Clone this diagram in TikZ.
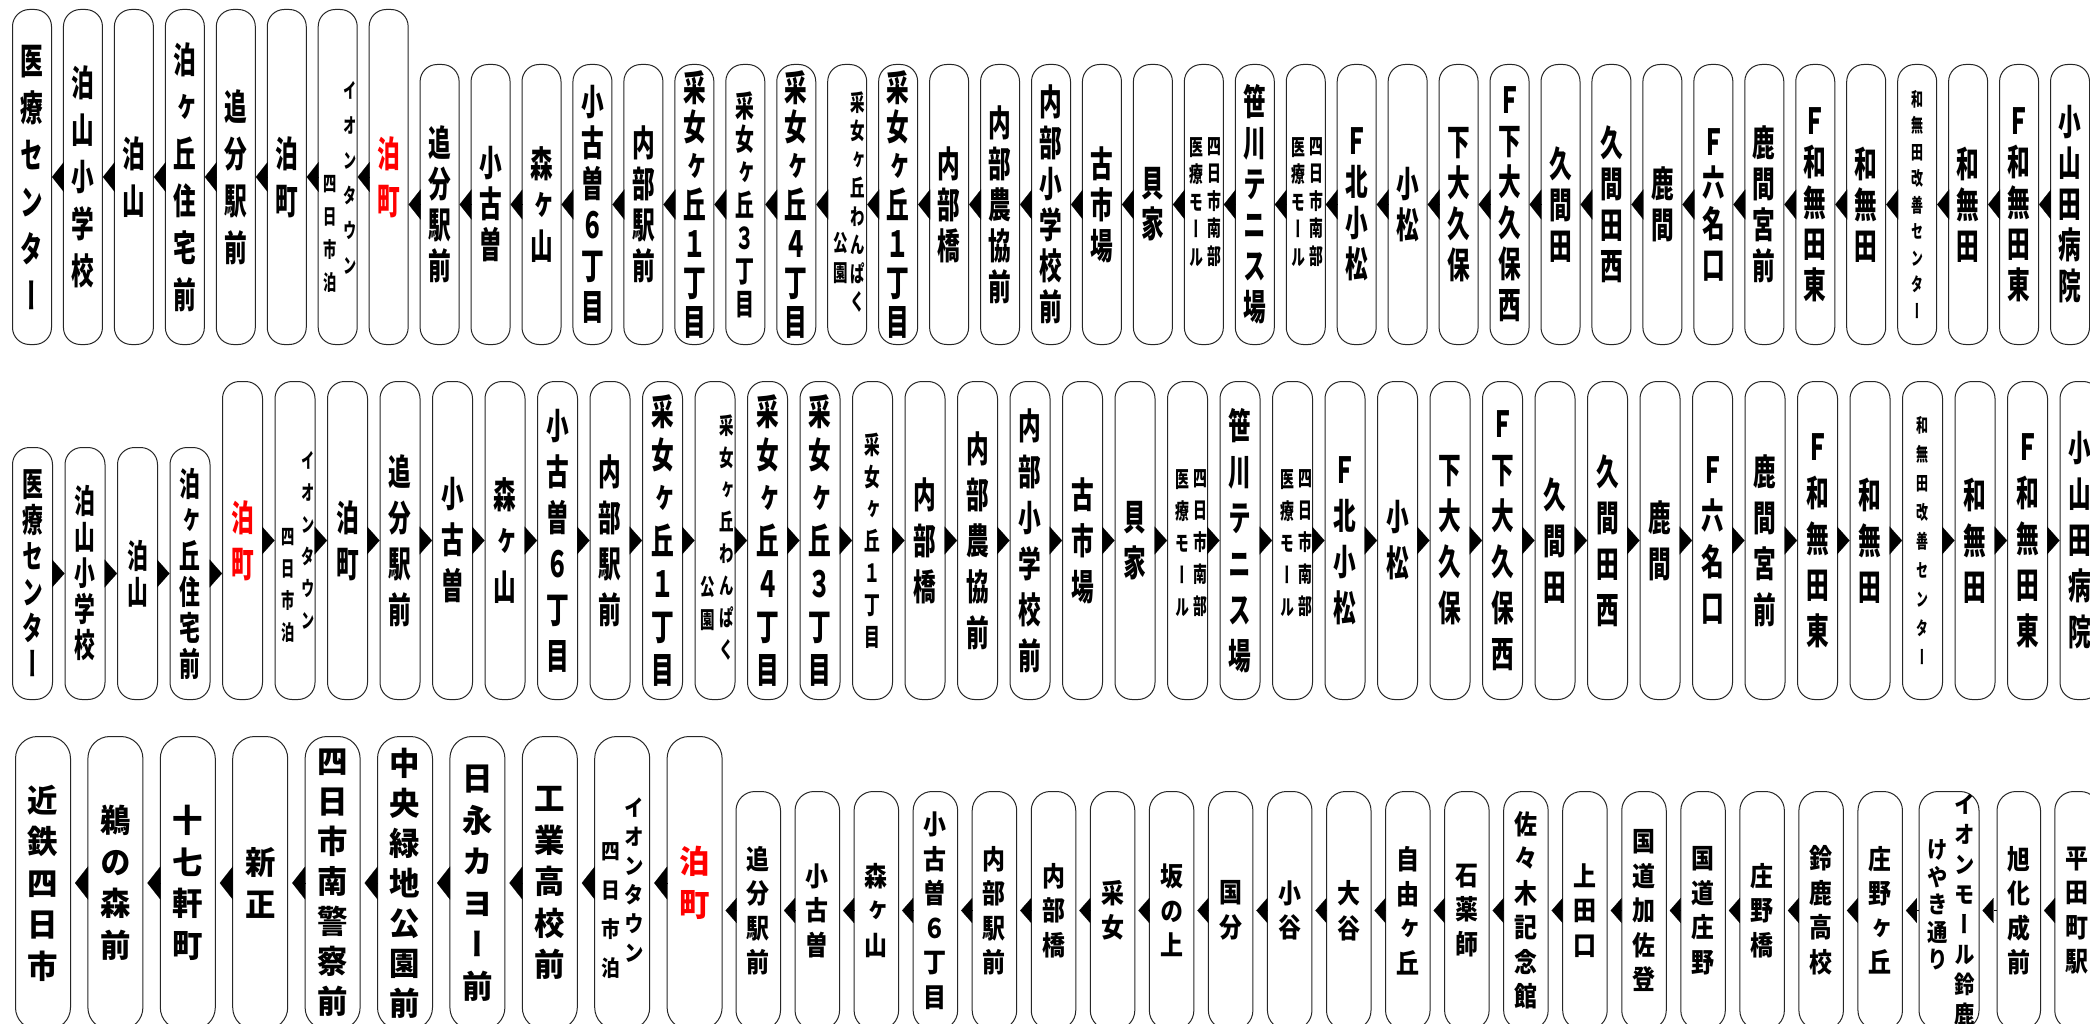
\documentclass[tikz,border=0pt]{standalone}
\usepackage{fontspec}
\usetikzlibrary{arrows.meta}
\newfontfamily\jpC[FakeStretch=0.63,RawFeature={+vert}]{Noto Sans CJK JP}
\newfontfamily\jpW[FakeStretch=0.95,RawFeature={+vert}]{Noto Sans CJK JP}
\newfontfamily\jpM[FakeStretch=0.85,RawFeature={+vert}]{Noto Sans CJK JP}
\newcommand\fz[2]{\fontsize{#1}{#2}\selectfont}
\newcommand\vcol[1]{\vbox{\lineskiplimit=-1000pt\lineskip=0pt\expandafter\vchA#1\relax}}
\def\vchA#1{\ifx\relax#1\else\hbox to 0pt{\hss#1\hss}\expandafter\vchA\fi}
\tikzset{
 stn/.style={draw=black!85, line width=1pt, fill=white, inner sep=0pt, anchor=south, text=black},
 r1base/.style={stn, minimum width=39pt, rounded corners=17pt},
 r1A/.style={r1base, minimum height=335pt, font=\jpC\bfseries\fz{36}{47}},
 r1R/.style={r1A, text=red},
 r1X/.style={r1A},
 r1B/.style={r1base, minimum height=280pt, font=\jpC\bfseries\fz{36}{41}},
 r1C/.style={r1B, font=\jpC\bfseries\fz{36}{39}},
 r1D/.style={r1B, font=\jpC\bfseries\fz{30}{33}},
 r1E/.style={r1B, font=\jpC\bfseries\fz{19}{26.5}},
 r1Y/.style={r1B},
 r2base/.style={stn, minimum width=40pt, rounded corners=17pt},
 r2P/.style={r2base, minimum height=252pt, font=\jpC\bfseries\fz{33}{36}},
 r2Q/.style={r2base, minimum height=318pt, font=\jpC\bfseries\fz{36}{46}},
 r2R/.style={r2Q, text=red},
 r2X/.style={r2Q},
 r2G/.style={r2Q, font=\jpC\bfseries\fz{36}{43}},
 r2H/.style={r2Q, font=\jpC\bfseries\fz{25}{32}},
 r2E/.style={r2Q, font=\jpC\bfseries\fz{19}{29}},
 r3K/.style={stn, minimum width=55pt, minimum height=293pt, rounded corners=22pt, font=\jpW\bfseries\fz{32}{41.5}},
 r3L/.style={r3K, font=\jpW\bfseries\fz{32}{40}},
 r3R/.style={r3K, font=\jpW\bfseries\fz{32}{43}, text=red},
 r3X/.style={r3K},
 r3S/.style={stn, minimum width=44.5pt, minimum height=238pt, rounded corners=19pt, font=\jpM\bfseries\fz{27}{34.5}},
 lab/.style={inner sep=0pt},
 arr1/.style={-{Triangle[length=11.9pt,width=30pt]}, line width=0.1pt},
 arr2/.style={-{Triangle[length=12.5pt,width=28pt]}, line width=0.1pt},
 arr3b/.style={-{Triangle[length=13pt,width=33pt]}, line width=0.1pt, shorten >=4pt},
 arr3s/.style={-{Triangle[length=11pt,width=25pt]}, line width=0.1pt, shorten >=3pt},
}
\begin{document}
\begin{tikzpicture}[x=1pt,y=-1pt]
\fill[white] (0,0) rectangle (2090,1024);
\useasboundingbox (0,0) rectangle (2090,1024);
% ---------------- Row 1 ----------------
\foreach \k/\t [count=\i from 0] in {A/医療センター, A/泊山小学校, A/泊山, A/泊ヶ丘住宅前, A/追分駅前, A/泊町, X/, R/泊町, B/追分駅前, B/小古曽, B/森ヶ山, B/小古曽６丁目, B/内部駅前, C/采女ヶ丘１丁目, D/采女ヶ丘３丁目, C/采女ヶ丘４丁目, Y/, C/采女ヶ丘１丁目, B/内部橋, B/内部農協前, B/内部小学校前, B/古市場, B/貝家, Y/, B/笹川テニス場, Y/, B/Ｆ北小松, B/小松, B/下大久保, B/Ｆ下大久保西, B/久間田, B/久間田西, B/鹿間, B/Ｆ六名口, B/鹿間宮前, B/Ｆ和無田東, B/和無田, E/和無田改善センター, B/和無田, B/Ｆ和無田東, B/小山田病院}
 {\node[r1\k] (r1n\i) at ({32+50.95*\i},345) {\vcol{\t}};}
\node[lab, font=\jpC\bfseries\fz{21}{35}] (r1n6a) at (350,177.5) {\vcol{イオンタウン}};
\node[lab, font=\jpC\bfseries\fz{21}{33}] (r1n6b) at (330,234) {\vcol{四日市泊}};
\node[lab, font=\jpC\bfseries\fz{23}{28.5}] (r1n16a) at (858,202) {\vcol{采女ヶ丘わんぱく}};
\node[lab, font=\jpC\bfseries\fz{23}{30}] (r1n16b) at (841,258) {\vcol{公園}};
\node[lab, font=\jpC\bfseries\fz{22}{27.5}] (r1n23a) at (1214,202) {\vcol{四日市南部}};
\node[lab, font=\jpC\bfseries\fz{22}{27.5}] (r1n23b) at (1196.5,202) {\vcol{医療モール}};
\node[lab, font=\jpC\bfseries\fz{22}{27.5}] (r1n25a) at (1316,202) {\vcol{四日市南部}};
\node[lab, font=\jpC\bfseries\fz{22}{27.5}] (r1n25b) at (1298.5,202) {\vcol{医療モール}};
\foreach \i [evaluate=\i as \j using int(\i-1)] in {1,...,40}
 {\draw[arr1] (r1n\i.west) -- (r1n\i.west -| r1n\j.east);}
% ---------------- Row 2 ----------------
\foreach \k/\t [count=\i from 0] in {P/医療センター, P/泊山小学校, P/泊山, P/泊ヶ丘住宅前, R/泊町, X/, Q/泊町, Q/追分駅前, Q/小古曽, Q/森ヶ山, Q/小古曽６丁目, Q/内部駅前, G/采女ヶ丘１丁目, X/, G/采女ヶ丘４丁目, G/采女ヶ丘３丁目, H/采女ヶ丘１丁目, Q/内部橋, Q/内部農協前, Q/内部小学校前, Q/古市場, Q/貝家, X/, Q/笹川テニス場, X/, Q/Ｆ北小松, Q/小松, Q/下大久保, Q/Ｆ下大久保西, Q/久間田, Q/久間田西, Q/鹿間, Q/Ｆ六名口, Q/鹿間宮前, Q/Ｆ和無田東, Q/和無田, E/和無田改善センター, Q/和無田, Q/Ｆ和無田東, Q/小山田病院}
 {\node[r2\k] (r2n\i) at ({32.5+52.5*\i},700) {\vcol{\t}};}
\node[lab, font=\jpC\bfseries\fz{21}{32}] (r2n5a) at (308,540) {\vcol{イオンタウン}};
\node[lab, font=\jpC\bfseries\fz{21}{32}] (r2n5b) at (288,585) {\vcol{四日市泊}};
\node[lab, font=\jpC\bfseries\fz{23}{32}] (r2n13a) at (727,538) {\vcol{采女ヶ丘わんぱく}};
\node[lab, font=\jpC\bfseries\fz{23}{33}] (r2n13b) at (708,603) {\vcol{公園}};
\node[lab, font=\jpC\bfseries\fz{22}{32}] (r2n22a) at (1200,543) {\vcol{四日市南部}};
\node[lab, font=\jpC\bfseries\fz{22}{32}] (r2n22b) at (1182,543) {\vcol{医療モール}};
\node[lab, font=\jpC\bfseries\fz{22}{32}] (r2n24a) at (1305,543) {\vcol{四日市南部}};
\node[lab, font=\jpC\bfseries\fz{22}{32}] (r2n24b) at (1287,543) {\vcol{医療モール}};
\foreach \i [evaluate=\i as \j using int(\i+1)] in {0,...,38}
 {\draw[arr2] (r2n\i.east) -- (r2n\i.east -| r2n\j.west);}
% ---------------- Row 3 ----------------
\foreach \k/\t [count=\i from 0] in {K/近鉄四日市, K/鵜の森前, K/十七軒町, K/新正, L/四日市南警察前, L/中央緑地公園前, K/日永カヨー前, K/工業高校前, X/, R/泊町}
 {\node[r3\k] (r3n\i) at ({43+72.4*\i},1030) {\vcol{\t}};}
\foreach \t [count=\i from 10] in {追分駅前, 小古曽, 森ヶ山, 小古曽６丁目, 内部駅前, 内部橋, 采女, 坂の上, 国分, 小谷, 大谷, 自由ヶ丘, 石薬師, 佐々木記念館, 上田口, 国道加佐登, 国道庄野, 庄野橋, 鈴鹿高校, 庄野ヶ丘}
 {\node[r3S] (r3n\i) at ({758.25+59.05*(\i-10)},1030) {\vcol{\t}};}
\node[r3S, minimum width=60pt] (r3n30) at (1949,1030) {};
\node[r3S, minimum width=43.5pt] (r3n31) at (2018.75,1030) {\vcol{旭化成前}};
\node[r3S] (r3n32) at (2077,1030) {\vcol{平田町駅}};
\node[lab, font=\jpM\bfseries\fz{23}{29}] (r3n8a) at (634,880) {\vcol{イオンタウン}};
\node[lab, font=\jpM\bfseries\fz{22}{39}] (r3n8b) at (611,911) {\vcol{四日市泊}};
\node[lab, font=\jpM\bfseries\fz{24}{30}] (r3n30a) at (1965,910) {\vcol{イオンモール鈴鹿}};
\node[lab, font=\jpM\bfseries\fz{24}{27.5}] (r3n30b) at (1938,905) {\vcol{けやき通り}};
\foreach \i [evaluate=\i as \j using int(\i-1)] in {1,...,9}
 {\draw[arr3b] (r3n\i.west) -- (r3n\i.west -| r3n\j.east);}
\foreach \i [evaluate=\i as \j using int(\i-1)] in {10,...,32}
 {\draw[arr3s] (r3n\i.west) -- (r3n\i.west -| r3n\j.east);}
\end{tikzpicture}
\end{document}
